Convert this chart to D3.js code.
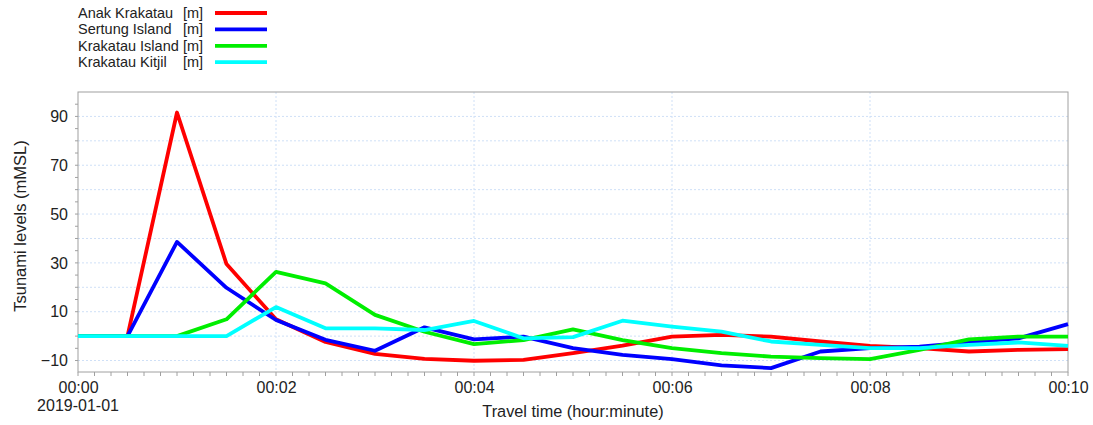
<!DOCTYPE html>
<html>
<head>
<meta charset="utf-8">
<script src="https://cdn.jsdelivr.net/npm/d3@7"></script>
<style>
	body { margin: 0; background: #fff; }
	svg { font-family: "Liberation Sans", Arial, sans-serif; }
</style>
</head>
<body>
<svg id="chart" width="1093" height="425"></svg>
<script>
// travel time in minutes, one sample every 30 s
var times = [0, 0.5, 1, 1.5, 2, 2.5, 3, 3.5, 4, 4.5, 5, 5.5, 6, 6.5, 7, 7.5, 8, 8.5, 9, 9.5, 10];
var seriesNames = ["Anak Krakatau", "Sertung Island", "Krakatau Island", "Krakatau Kitjil"];
var anakKrakatau = [0, 0, 91.6, 29.5, 6.9, -2.4, -7.3, -9.3, -10.1, -9.7, -7.0, -3.9, -0.2, 0.5, -0.2, -2.2, -4.0, -4.9, -6.3, -5.6, -5.3];
var sertungIsland = [0, 0, 38.6, 19.8, 6.6, -1.5, -6.0, 3.6, -1.3, -0.2, -4.9, -7.7, -9.4, -12.0, -13.1, -6.3, -4.9, -4.3, -2.6, -0.9, 4.9];
var krakatauIsland = [0, 0, 0, 6.9, 26.3, 21.6, 8.7, 1.8, -3.3, -1.6, 2.8, -1.6, -4.9, -7.0, -8.4, -9.0, -9.4, -5.6, -1.3, -0.2, -0.2];
var krakatauKitjil = [0, 0, 0, 0, 11.9, 3.2, 3.2, 2.5, 6.2, -0.9, -0.4, 6.3, 3.9, 1.8, -2.2, -3.6, -4.9, -4.9, -3.6, -2.6, -4.0];
var yTicks = [-10, 10, 30, 50, 70, 90];
var xTicks = [0, 2, 4, 6, 8, 10];
var colors = ["#ff0000", "#0000ff", "#00ee00", "#00ffff"];

var svg = d3.select("svg#chart"),
	margin = { top: 92, right: 25, bottom: 53, left: 78 },
	width = 1093 - margin.left - margin.right,
	height = 425 - margin.top - margin.bottom;

var x = d3.scaleLinear().domain([0, 10]).range([0, width]);
var y = d3.scaleLinear().domain([-14.7, 100]).range([height, 0]);

var g = svg.append("g")
	.attr("transform", "translate(" + margin.left + "," + margin.top + ")");

// grid
g.append("g").selectAll("line")
	.data(d3.range(-10, 100, 10))
	.enter().append("line")
	.attr("x1", 0).attr("x2", width)
	.attr("y1", d => y(d)).attr("y2", d => y(d))
	.attr("stroke", "#cfe0f7").attr("stroke-dasharray", "2,2");
g.append("g").selectAll("line")
	.data(xTicks.slice(1, -1))
	.enter().append("line")
	.attr("x1", d => x(d)).attr("x2", d => x(d))
	.attr("y1", 0).attr("y2", height)
	.attr("stroke", "#cfe0f7").attr("stroke-dasharray", "2,2");

// frame
g.append("rect")
	.attr("width", width).attr("height", height)
	.attr("fill", "none").attr("stroke", "#a0a0a0");

// minor ticks
g.append("g").selectAll("line")
	.data(d3.range(0, 10.01, 1 / 6))
	.enter().append("line")
	.attr("x1", d => x(d)).attr("x2", d => x(d))
	.attr("y1", height).attr("y2", height + 4)
	.attr("stroke", "#a0a0a0");
g.append("g").selectAll("line")
	.data(d3.range(-10, 100, 5))
	.enter().append("line")
	.attr("x1", -3).attr("x2", 0)
	.attr("y1", d => y(d)).attr("y2", d => y(d))
	.attr("stroke", "#a0a0a0");

// axes labels
var yAxis = d3.axisLeft(y).tickValues(yTicks).tickSize(0).tickPadding(10);
g.append("g").call(yAxis)
	.attr("font-size", 16).attr("font-family", null)
	.call(a => a.select(".domain").remove())
	.selectAll("text").attr("fill", "#222");

var xAxis = d3.axisBottom(x).tickValues(xTicks).tickSize(0).tickPadding(10)
	.tickFormat(d => "00:" + d3.format("02d")(d));
g.append("g").attr("transform", "translate(0," + height + ")").call(xAxis)
	.attr("font-size", 16).attr("font-family", null)
	.call(a => a.select(".domain").remove())
	.selectAll("text").attr("fill", "#222");

g.append("text")
	.attr("x", x(0)).attr("y", height + 39)
	.attr("text-anchor", "middle").attr("font-size", 16).attr("fill", "#222")
	.text("2019-01-01");

g.append("text")
	.attr("x", width / 2).attr("y", height + 45)
	.attr("text-anchor", "middle").attr("font-size", 16.3).attr("fill", "#222")
	.text("Travel time (hour:minute)");

svg.append("text")
	.attr("transform", "translate(26," + (margin.top + height / 2 - 6) + ") rotate(-90)")
	.attr("text-anchor", "middle").attr("font-size", 16.5).attr("fill", "#222")
	.text("Tsunami levels (mMSL)");

// lines
var allSeries = [anakKrakatau, sertungIsland, krakatauIsland, krakatauKitjil];
var line = d3.line()
	.x((d, i) => x(times[i]))
	.y(d => y(d));

g.selectAll(".series")
	.data(allSeries)
	.enter().append("path")
	.attr("class", "series")
	.attr("d", line)
	.attr("fill", "none")
	.attr("stroke", (d, i) => colors[i])
	.attr("stroke-width", 3.8)
	.attr("stroke-linejoin", "round");

// legend
var legend = svg.append("g").selectAll("g")
	.data(seriesNames)
	.enter().append("g")
	.attr("transform", (d, i) => "translate(78," + (13 + i * 16.4) + ")");
legend.append("text")
	.attr("dy", "0.35em").attr("font-size", 14.5).attr("fill", "#222")
	.text(d => d);
legend.append("text")
	.attr("x", 105).attr("dy", "0.35em").attr("font-size", 14.5).attr("fill", "#222")
	.text("[m]");
legend.append("line")
	.attr("x1", 137).attr("x2", 189)
	.attr("stroke", (d, i) => colors[i]).attr("stroke-width", 3.8);
</script>
</body>
</html>
